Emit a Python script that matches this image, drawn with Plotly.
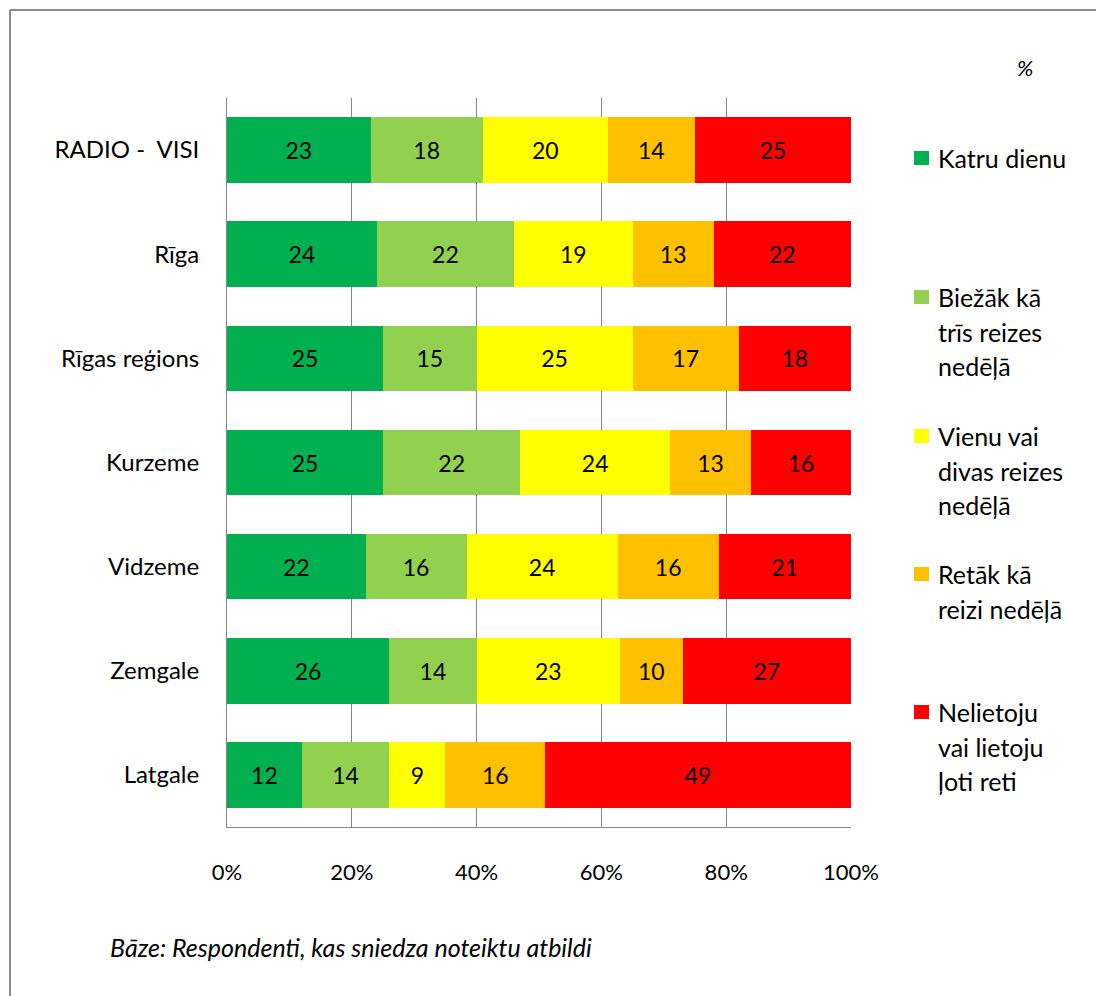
import plotly.graph_objects as go

categories = ['RADIO -  VISI', 'Rīga', 'Rīgas reģions', 'Kurzeme', 'Vidzeme', 'Zemgale', 'Latgale']
series_names = ['Katru dienu', 'Biežāk kā trīs reizes nedēļā', 'Vienu vai divas reizes nedēļā',
                'Retāk kā reizi nedēļā', 'Nelietoju vai lietoju ļoti reti']
legend_lines = [
    ['Katru dienu'],
    ['Biežāk kā', 'trīs reizes', 'nedēļā'],
    ['Vienu vai', 'divas reizes', 'nedēļā'],
    ['Retāk kā', 'reizi nedēļā'],
    ['Nelietoju', 'vai lietoju', 'ļoti reti'],
]
katru_dienu = [23, 24, 25, 25, 22, 26, 12]
biezak = [18, 22, 15, 22, 16, 14, 14]
vienu_divas = [20, 19, 25, 24, 24, 23, 9]
retak = [14, 13, 17, 13, 16, 10, 16]
nelietoju = [25, 22, 18, 16, 21, 27, 49]
colors = ['#00B050', '#92D050', '#FFFF00', '#FFC000', '#FF0000']
x_ticks = [0, 20, 40, 60, 80, 100]

FONT = 'Lato'
OFF = 8  # page body margin
W, H = 1104 - OFF, 996 - OFF
L, R, T, B = 227 - OFF, 851 - OFF, 98 - OFF, 827 - OFF


def px(x):
    # screen pixel -> paper x
    return (x - OFF - L) / (R - L)


def py(y):
    # screen pixel -> paper y
    return (B - (y - OFF)) / (B - T)


fig = go.Figure()
for name, vals, col in zip(series_names, [katru_dienu, biezak, vienu_divas, retak, nelietoju], colors):
    fig.add_trace(go.Bar(
        y=categories,
        x=vals,
        name=name,
        orientation='h',
        marker=dict(color=col, line=dict(width=0)),
        text=[str(v) for v in vals],
        textposition='inside',
        insidetextanchor='middle',
        textfont=dict(family=FONT, size=23, color='black'),
        showlegend=False,
    ))

fig.update_layout(
    width=W,
    height=H,
    barmode='stack',
    barnorm='percent',
    bargap=0.37,
    plot_bgcolor='white',
    paper_bgcolor='white',
    margin=dict(l=L, r=W - R, t=T, b=H - B),
    font=dict(family=FONT, size=22, color='black'),
    uniformtext=dict(minsize=20, mode='show'),
)
fig.update_xaxes(
    range=[0, 100],
    tickvals=x_ticks,
    ticktext=[f'{v}%' for v in x_ticks],
    showgrid=True,
    gridcolor='#868686',
    gridwidth=1,
    showline=True,
    linecolor='#868686',
    linewidth=1,
    zeroline=False,
    ticks='',
    ticklabelstandoff=26,
    tickfont=dict(family=FONT, size=22),
)
fig.update_yaxes(
    categoryorder='array',
    categoryarray=categories,
    autorange='reversed',
    showgrid=False,
    showline=True,
    linecolor='#868686',
    linewidth=1,
    zeroline=False,
    ticks='',
    ticklabelstandoff=22,
    tickfont=dict(family=FONT, size=24),
)

# outer frame (left and top edges)
fig.add_shape(type='line', xref='paper', yref='paper', x0=px(10), y0=py(10), x1=px(1110), y1=py(10),
              line=dict(color='#8a8a8a', width=2))
fig.add_shape(type='line', xref='paper', yref='paper', x0=px(10), y0=py(10), x1=px(10), y1=py(1000),
              line=dict(color='#8a8a8a', width=2))

# legend drawn by hand to keep the uneven spacing
legend_y = [158, 297, 436, 574, 712]
for lines, col, y0 in zip(legend_lines, colors, legend_y):
    fig.add_shape(type='rect', xref='paper', yref='paper', x0=px(914), x1=px(929), y0=py(y0 - 7), y1=py(y0 + 7),
                  fillcolor=col, line=dict(width=0))
    for k, line in enumerate(lines):
        fig.add_annotation(x=px(936), y=py(y0 + k * 34.5), xref='paper', yref='paper', text=line,
                           showarrow=False, xanchor='left', yanchor='middle',
                           font=dict(family=FONT, size=25, color='black'))

fig.add_annotation(x=px(1025), y=py(67), xref='paper', yref='paper', text='<i>%</i>', showarrow=False,
                   xanchor='center', yanchor='middle', font=dict(family=FONT, size=22))
fig.add_annotation(x=px(108), y=py(947), xref='paper', yref='paper',
                   text='<i>Bāze: Respondenti, kas sniedza noteiktu atbildi</i>', showarrow=False,
                   xanchor='left', yanchor='middle', font=dict(family=FONT, size=25))

fig.write_html('out.html')
